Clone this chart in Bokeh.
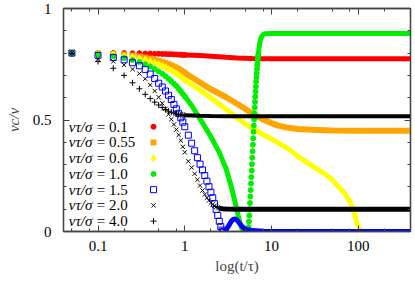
import numpy as np
from bokeh.plotting import figure
from bokeh.models import LogAxis, LinearAxis, FixedTicker, Range1d, ColumnDataSource
from bokeh.embed import file_html
from bokeh.resources import INLINE
from bokeh.core.properties import value

# ---------------- data ----------------
T_EARLY = [0.05, 0.10, 0.15, 0.20, 0.25, 0.30, 0.35, 0.40, 0.45, 0.50,
           0.55, 0.60, 0.65, 0.70, 0.75, 0.80, 0.85, 0.90, 0.95, 1.00]

# v tau / sigma = 0.1  (red circles)
RED_V = [0.800, 0.800, 0.800, 0.800, 0.799, 0.799, 0.798, 0.798, 0.797, 0.797,
         0.796, 0.796, 0.795, 0.795, 0.794, 0.794, 0.793, 0.793, 0.792, 0.792]
RED_T_LINE = [1.0, 1.5, 2.0, 3.0, 4.0, 6.0, 10.0, 400.0]
RED_V_LINE = [0.792, 0.789, 0.786, 0.781, 0.778, 0.776, 0.775, 0.775]

# 0.55 (orange squares)
ORANGE_V = [0.800, 0.798, 0.796, 0.793, 0.789, 0.785, 0.780, 0.775, 0.770, 0.765,
            0.760, 0.755, 0.750, 0.745, 0.740, 0.734, 0.728, 0.722, 0.716, 0.710]
ORANGE_T_LINE = [1.0, 1.2, 1.5, 2.0, 3.0, 4.0, 5.0, 6.0, 8.0, 10.0, 12.0, 15.0,
                 20.0, 30.0, 50.0, 100.0, 400.0]
ORANGE_V_LINE = [0.710, 0.692, 0.668, 0.638, 0.602, 0.573, 0.549, 0.529, 0.502,
                 0.486, 0.475, 0.466, 0.460, 0.456, 0.453, 0.452, 0.452]

# 0.6 (yellow)
YELLOW_V = [0.800, 0.797, 0.793, 0.788, 0.783, 0.777, 0.771, 0.764, 0.757, 0.750,
            0.743, 0.736, 0.729, 0.722, 0.715, 0.708, 0.701, 0.694, 0.687, 0.680]
YELLOW_T_LINE = [1.0, 1.3, 1.5, 2.0, 3.0, 4.0, 5.0, 6.0, 8.0, 10.0, 15.0, 20.0,
                 25.0, 30.0, 40.0, 50.0, 60.0, 70.0, 80.0, 87.0, 92.0, 96.0,
                 100.0, 105.0, 110.0, 400.0]
YELLOW_V_LINE = [0.680, 0.650, 0.634, 0.600, 0.548, 0.510, 0.482, 0.462, 0.435,
                 0.415, 0.375, 0.338, 0.312, 0.292, 0.262, 0.232, 0.198, 0.170,
                 0.135, 0.100, 0.070, 0.040, 0.020, 0.008, 0.000, 0.000]

# 1.0 (green circles)
GREEN_V = [0.800, 0.794, 0.786, 0.778, 0.769, 0.760, 0.750, 0.740, 0.729, 0.718,
           0.707, 0.696, 0.685, 0.674, 0.663, 0.652, 0.640, 0.629, 0.617, 0.606]
GREEN_T_DESC = [1.0, 1.2, 1.5, 2.0, 2.5, 3.0, 3.5, 4.0, 4.3, 4.6, 4.8, 5.4]
GREEN_V_DESC = [0.606, 0.565, 0.505, 0.425, 0.355, 0.280, 0.190, 0.095, 0.040,
                0.008, 0.000, 0.000]
GREEN_T_RISE = [5.45, 5.50, 5.55, 5.60, 5.65, 5.70, 5.75, 5.80, 5.85, 5.90,
                5.95, 6.00, 6.05, 6.10, 6.15, 6.20, 6.25, 6.30, 6.35, 6.40,
                6.45, 6.50, 6.55, 6.60, 6.65, 6.70, 6.75, 6.80, 6.85, 6.90,
                6.95, 7.00]
GREEN_V_RISE = [0.020, 0.045, 0.072, 0.100, 0.128, 0.157, 0.186, 0.215, 0.244,
                0.273, 0.302, 0.331, 0.360, 0.389, 0.418, 0.447, 0.475, 0.503,
                0.530, 0.556, 0.581, 0.605, 0.628, 0.650, 0.671, 0.691, 0.710,
                0.728, 0.745, 0.760, 0.774, 0.787]
GREEN_T_TOP = [7.0, 7.2, 7.4, 7.6, 8.0, 8.5, 10.0, 400.0]
GREEN_V_TOP = [0.787, 0.827, 0.854, 0.870, 0.883, 0.887, 0.888, 0.888]

# 1.5 (blue open squares)
BLUE_T = T_EARLY + [1.1, 1.2, 1.3, 1.4, 1.5, 1.6, 1.7, 1.8, 1.9, 2.0,
                    2.1, 2.2, 2.3, 2.4, 2.5, 2.6, 2.7, 2.8]
BLUE_V = [0.800, 0.790, 0.780, 0.770, 0.757, 0.743, 0.726, 0.706, 0.686, 0.665,
          0.648, 0.630, 0.611, 0.592, 0.570, 0.550, 0.530, 0.510, 0.490, 0.470,
          0.432, 0.396, 0.362, 0.331, 0.302, 0.276, 0.251, 0.226, 0.201, 0.176,
          0.151, 0.125, 0.099, 0.072, 0.046, 0.022, 0.006, 0.000]
BLUE_T_LINE = [2.8, 2.9, 3.0, 3.2, 3.4, 3.6, 3.8, 4.0, 4.3, 4.6, 5.0, 6.0, 8.0,
               10.0, 400.0]
BLUE_V_LINE = [0.000, 0.002, 0.008, 0.025, 0.043, 0.054, 0.056, 0.051, 0.036,
               0.021, 0.010, 0.004, 0.001, 0.000, 0.000]

# 2.0 (black crosses)
CROSS_T = T_EARLY + [1.1, 1.2, 1.3, 1.4, 1.5, 1.6, 1.7, 1.8, 1.9, 2.0,
                     2.1, 2.2, 2.3, 2.4, 2.5]
CROSS_V = [0.800, 0.775, 0.763, 0.747, 0.728, 0.708, 0.685, 0.657, 0.630, 0.602,
           0.575, 0.550, 0.526, 0.503, 0.480, 0.457, 0.433, 0.408, 0.380, 0.355,
           0.315, 0.287, 0.259, 0.232, 0.206, 0.184, 0.166, 0.151, 0.139, 0.129,
           0.121, 0.115, 0.110, 0.107, 0.104]
CROSS_T_LINE = [2.5, 2.7, 3.0, 4.0, 400.0]
CROSS_V_LINE = [0.104, 0.102, 0.101, 0.100, 0.100]

# 4.0 (black plus)
PLUS_V = [0.798, 0.762, 0.732, 0.700, 0.667, 0.640, 0.615, 0.596, 0.580, 0.567,
          0.556, 0.547, 0.540, 0.535, 0.531, 0.528, 0.525, 0.523, 0.522, 0.521]
PLUS_T_LINE = [1.0, 1.5, 2.0, 3.0, 400.0]
PLUS_V_LINE = [0.521, 0.519, 0.518, 0.517, 0.517]

LEGEND_VALUES = ["0.1", "0.55", "0.6", "1.0", "1.5", "2.0", "4.0"]
X_TICKS = [0.1, 1, 10, 100]
X_MINOR = [0.05, 0.08, 0.2, 0.5, 0.8, 2, 5, 8, 20, 50, 80, 200]
Y_TICKS = [0, 0.5, 1]
Y_MINOR = [0.1, 0.2, 0.3, 0.4, 0.6, 0.7, 0.8, 0.9]

# ---------------- figure ----------------
SERIF = "Liberation Serif"
AX = "#444444"

p = figure(x_axis_type="log", x_range=Range1d(0.04, 400), y_range=Range1d(0, 1),
           width=414, height=281,
           min_border_left=63, min_border_right=4, min_border_top=8, min_border_bottom=50,
           output_backend="svg", toolbar_location=None)
p.xgrid.visible = False
p.ygrid.visible = False
p.outline_line_color = AX
p.outline_line_width = 1.3
p.background_fill_color = "white"

xt = FixedTicker(ticks=X_TICKS, minor_ticks=X_MINOR)
yt = FixedTicker(ticks=Y_TICKS, minor_ticks=Y_MINOR)


def style_axis(ax, show_labels):
    ax.axis_line_color = AX
    ax.axis_line_width = 1.3
    ax.major_tick_in = 6
    ax.major_tick_out = 0
    ax.minor_tick_in = 3
    ax.minor_tick_out = 0
    ax.major_tick_line_color = AX
    ax.minor_tick_line_color = AX
    if show_labels:
        ax.major_label_text_font = SERIF
        ax.major_label_text_font_size = "15px"
        ax.major_label_text_color = "black"
    else:
        ax.major_label_text_font_size = "1px"
        ax.major_label_text_color = None
        ax.major_label_standoff = 0


xa = p.xaxis[0]
xa.ticker = xt
xa.major_label_overrides = {0.1: "0.1", 1: "1", 10: "10", 100: "100"}
style_axis(xa, True)
xa.major_label_standoff = 9
xa.axis_label = "log(t/τ)"
xa.axis_label_text_font = SERIF
xa.axis_label_text_font_size = "15px"
xa.axis_label_text_font_style = "normal"
xa.axis_label_standoff = 4

ya = p.yaxis[0]
ya.ticker = yt
ya.major_label_overrides = {0: "0", 0.5: "0.5", 1: "1"}
style_axis(ya, True)
ya.major_label_standoff = 12
ya.axis_label = "vc/v"
ya.axis_label_text_font = SERIF
ya.axis_label_text_font_size = "15px"
ya.axis_label_text_font_style = "italic"
ya.axis_label_standoff = 8

top = LogAxis(ticker=xt)
style_axis(top, False)
p.add_layout(top, "above")
right = LinearAxis(ticker=yt)
style_axis(right, False)
p.add_layout(right, "right")

# ---------------- series ----------------
RED = "#ff0000"
ORANGE = "#ffa500"
YELLOW = "#ffff00"
GREEN = "#00ee00"
BLUE = "#0000ff"
BLACK = "#000000"

p.line(RED_T_LINE, RED_V_LINE, line_color=RED, line_width=5)
p.scatter(T_EARLY, RED_V, marker="circle", size=5, fill_color=RED, line_color=RED)

p.line(ORANGE_T_LINE, ORANGE_V_LINE, line_color=ORANGE, line_width=6)
p.scatter(T_EARLY, ORANGE_V, marker="square", size=5, fill_color=ORANGE, line_color=ORANGE)

p.line(YELLOW_T_LINE, YELLOW_V_LINE, line_color=YELLOW, line_width=5)
p.scatter(T_EARLY, YELLOW_V, marker="diamond", size=7, fill_color=YELLOW, line_color=YELLOW)

p.line(GREEN_T_DESC, GREEN_V_DESC, line_color=GREEN, line_width=5)
p.line(GREEN_T_TOP, GREEN_V_TOP, line_color=GREEN, line_width=5)
p.scatter(T_EARLY, GREEN_V, marker="circle", size=5, fill_color=GREEN, line_color=GREEN)
p.scatter(GREEN_T_RISE, GREEN_V_RISE, marker="circle", size=5, fill_color=GREEN, line_color=GREEN)

p.line(BLUE_T_LINE, BLUE_V_LINE, line_color=BLUE, line_width=5)
p.scatter(BLUE_T, BLUE_V, marker="square", size=6, fill_color=None, line_color=BLUE, line_width=1)

p.line(CROSS_T_LINE, CROSS_V_LINE, line_color=BLACK, line_width=5)
p.scatter(CROSS_T, CROSS_V, marker="x", size=6, line_color=BLACK, line_width=1)

p.line(PLUS_T_LINE, PLUS_V_LINE, line_color=BLACK, line_width=4)
p.scatter(T_EARLY, PLUS_V, marker="cross", size=6, line_color=BLACK, line_width=1)

# ---------------- legend (text left, symbol right) ----------------
n = len(LEGEND_VALUES)
leg_y = [0.47 - 0.0706 * i for i in range(n)]
leg_src = ColumnDataSource(dict(x=[0.046] * n, y=leg_y,
                                lhs=["vτ/σ"] * n,
                                rhs=["= " + v for v in LEGEND_VALUES]))
p.text(x="x", y="y", text="lhs", source=leg_src, text_font=value(SERIF),
       text_font_style="italic", text_font_size="15px", text_baseline="middle",
       text_align="left", text_color="black")
p.text(x="x", y="y", text="rhs", source=leg_src, text_font=value(SERIF),
       text_font_size="15px", text_baseline="middle", text_align="left",
       text_color="black", x_offset=28)

mx = 0.436
p.scatter([mx], [leg_y[0]], marker="circle", size=5, fill_color=RED, line_color=RED)
p.scatter([mx], [leg_y[1]], marker="square", size=5, fill_color=ORANGE, line_color=ORANGE)
p.scatter([mx], [leg_y[2]], marker="diamond", size=7, fill_color=YELLOW, line_color=YELLOW)
p.scatter([mx], [leg_y[3]], marker="circle", size=5, fill_color=GREEN, line_color=GREEN)
p.scatter([mx], [leg_y[4]], marker="square", size=6, fill_color=None, line_color=BLUE)
p.scatter([mx], [leg_y[5]], marker="x", size=6, line_color=BLACK)
p.scatter([mx], [leg_y[6]], marker="cross", size=6, line_color=BLACK)

open("out.html", "w").write(file_html(p, INLINE))
